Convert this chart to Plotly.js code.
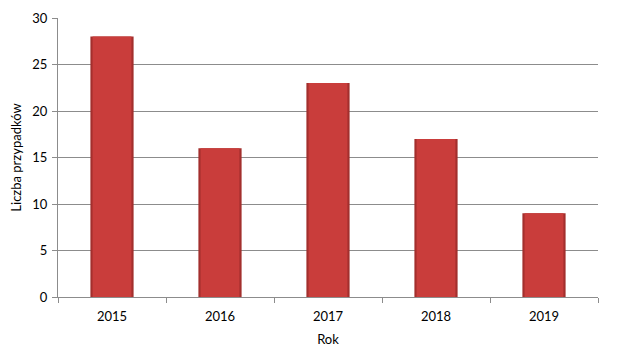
<!DOCTYPE html>
<html>
<head>
<meta charset="utf-8">
<script src="https://cdn.plot.ly/plotly-3.0.1.min.js"></script>
<style>html,body{margin:0;padding:0;background:#fff;}#chart{width:642px;height:348px;}</style>
</head>
<body>
<div id="chart"></div>
<script>
const years = ['2015', '2016', '2017', '2018', '2019'];
const cases = [28, 16, 23, 17, 9];
const yTicks = [0, 5, 10, 15, 20, 25, 30];

const font = {family: 'Lato, "Open Sans", sans-serif', size: 13, color: '#000'};

const traces = [
  {type: 'bar', x: years, y: cases, width: 0.4,
   marker: {color: '#a32f2d', line: {width: 0}}, hoverinfo: 'skip'},
  {type: 'bar', x: years, y: cases, width: 0.36,
   marker: {color: '#c93d3b', line: {width: 0}}, hoverinfo: 'skip'}
];

const layout = {
  width: 642, height: 348,
  margin: {l: 58, r: 44, t: 18, b: 51},
  paper_bgcolor: '#fff', plot_bgcolor: '#fff',
  showlegend: false,
  barmode: 'overlay',
  font: font,
  xaxis: {
    type: 'category',
    title: {text: 'Rok', font: font, standoff: 12},
    showline: true, linecolor: '#8c8c8c', linewidth: 1,
    ticks: 'outside', tickson: 'boundaries', ticklen: 5, tickcolor: '#8c8c8c',
    ticklabelstandoff: 7,
    showgrid: false, tickfont: font
  },
  yaxis: {
    range: [0, 30], tickvals: yTicks, ticktext: yTicks.map(String),
    title: {text: 'Liczba przypadków', font: font, standoff: 7},
    showline: true, linecolor: '#8c8c8c', linewidth: 1,
    ticks: 'outside', ticklen: 5, tickcolor: '#8c8c8c',
    ticklabelstandoff: 2,
    showgrid: true, gridcolor: '#8c8c8c', gridwidth: 1,
    zeroline: false, tickfont: font
  }
};

Plotly.newPlot('chart', traces, layout, {displayModeBar: false, staticPlot: true});
</script>
</body>
</html>
